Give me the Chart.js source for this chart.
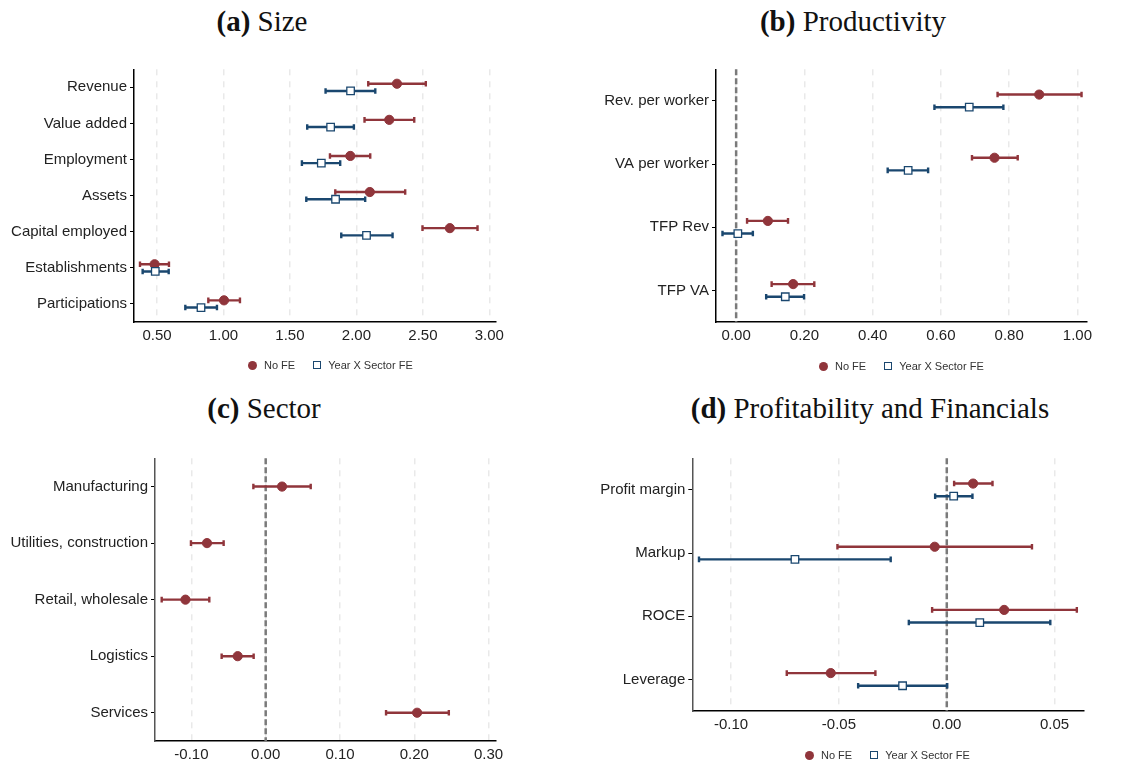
<!DOCTYPE html>
<html>
<head>
<meta charset="utf-8">
<script src="https://cdn.jsdelivr.net/npm/chart.js@4.4.1/dist/chart.umd.min.js"></script>
<style>
  body { margin: 0; background: #fff; width: 1135px; height: 766px; position: relative; overflow: hidden; }
  canvas { position: absolute; }
  .title { position: absolute; width: 500px; text-align: center; font-family: "Liberation Serif", serif; font-size: 29px; line-height: 29px; color: #111; }
  .legend { position: absolute; font-family: "Liberation Sans", Arial, sans-serif; font-size: 11px; color: #333; display: flex; align-items: center; white-space: nowrap; }
  .dot { width: 9px; height: 9px; border-radius: 50%; background: rgb(144,53,59); margin-right: 7px; }
  .sq { width: 6px; height: 6px; border: 1.3px solid rgb(26,71,111); margin-left: 18px; margin-right: 7px; }
</style>
</head>
<body>
<div class="title" style="left:12px; top:7px;"><b>(a)</b> Size</div>
<div class="title" style="left:603px; top:7px;"><b>(b)</b> Productivity</div>
<div class="title" style="left:14px; top:394px;"><b>(c)</b> Sector</div>
<div class="title" style="left:620px; top:394px;"><b>(d)</b> Profitability and Financials</div>

<canvas id="sizeChart" width="545" height="320" style="left:0px; top:40px;"></canvas>
<canvas id="prodChart" width="565" height="320" style="left:570px; top:40px;"></canvas>
<canvas id="sectorChart" width="545" height="336" style="left:0px; top:430px;"></canvas>
<canvas id="profChart" width="565" height="336" style="left:570px; top:430px;"></canvas>

<div class="legend" style="left:248px; top:359px;"><span class="dot"></span>No FE<span class="sq"></span>Year X Sector FE</div>
<div class="legend" style="left:819px; top:360px;"><span class="dot"></span>No FE<span class="sq"></span>Year X Sector FE</div>
<div class="legend" style="left:805px; top:749px;"><span class="dot"></span>No FE<span class="sq"></span>Year X Sector FE</div>

<script>
// valores (estimativa, IC inferior, IC superior)
const sizeLabels = ["Revenue", "Value added", "Employment", "Assets", "Capital employed", "Establishments", "Participations"];
const sizeNoFE = [2.305, 2.247, 1.954, 2.101, 2.703, 0.482, 1.004];
const sizeNoFELo = [2.089, 2.061, 1.801, 1.841, 2.497, 0.372, 0.886];
const sizeNoFEHi = [2.522, 2.435, 2.104, 2.367, 2.911, 0.590, 1.124];
const sizeFE = [1.956, 1.806, 1.736, 1.843, 2.076, 0.487, 0.831];
const sizeFELo = [1.768, 1.630, 1.590, 1.623, 1.886, 0.392, 0.713];
const sizeFEHi = [2.142, 1.981, 1.878, 2.066, 2.272, 0.588, 0.951];
const sizeTicks = [0.5, 1.0, 1.5, 2.0, 2.5, 3.0];

const prodLabels = ["Rev. per worker", "VA per worker", "TFP Rev", "TFP VA"];
const prodNoFE = [0.888, 0.757, 0.093, 0.167];
const prodNoFELo = [0.766, 0.691, 0.032, 0.104];
const prodNoFEHi = [1.012, 0.825, 0.152, 0.229];
const prodFE = [0.683, 0.504, 0.005, 0.144];
const prodFELo = [0.581, 0.444, -0.040, 0.088];
const prodFEHi = [0.783, 0.5625, 0.049, 0.199];
const prodTicks = [0, 0.2, 0.4, 0.6, 0.8, 1.0];

const sectorLabels = ["Manufacturing", "Utilities, construction", "Retail, wholesale", "Logistics", "Services"];
const sectorNoFE = [0.022, -0.079, -0.108, -0.0377, 0.2038];
const sectorNoFELo = [-0.0166, -0.1006, -0.140, -0.0593, 0.162];
const sectorNoFEHi = [0.0606, -0.0566, -0.0759, -0.0162, 0.2465];
const sectorTicks = [-0.1, 0, 0.1, 0.2, 0.3];

const profLabels = ["Profit margin", "Markup", "ROCE", "Leverage"];
const profNoFE = [0.0122, -0.0056, 0.0266, -0.0538];
const profNoFELo = [0.0034, -0.0507, -0.0068, -0.0742];
const profNoFEHi = [0.0212, 0.0395, 0.0603, -0.0331];
const profFE = [0.0032, -0.0704, 0.0153, -0.0205];
const profFELo = [-0.0054, -0.1149, -0.0176, -0.0411];
const profFEHi = [0.0119, -0.026, 0.048, 0.0002];
const profTicks = [-0.1, -0.05, 0, 0.05];

const red = "rgb(144,53,59)";
const blue = "rgb(26,71,111)";

// barras de erro + linha do zero
const errorBars = {
  id: "errorBars",
  beforeDatasetsDraw(chart, args, opts) {
    const { ctx, chartArea, scales: { x, y } } = chart;
    if (opts.zeroLine) {
      const px = x.getPixelForValue(0);
      ctx.save();
      ctx.strokeStyle = "#7a7a7a";
      ctx.lineWidth = 2.5;
      ctx.setLineDash([6, 3]);
      ctx.beginPath();
      ctx.moveTo(px, chartArea.top);
      ctx.lineTo(px, chartArea.bottom);
      ctx.stroke();
      ctx.restore();
    }
    chart.data.datasets.forEach(ds => {
      ctx.save();
      ctx.strokeStyle = ds.borderColor;
      ctx.lineWidth = 2.4;
      ds.data.forEach((p, i) => {
        const py = y.getPixelForValue(p.y);
        const x0 = x.getPixelForValue(ds.lo[i]);
        const x1 = x.getPixelForValue(ds.hi[i]);
        ctx.beginPath();
        ctx.moveTo(x0, py); ctx.lineTo(x1, py);
        ctx.moveTo(x0, py - 2.8); ctx.lineTo(x0, py + 2.8);
        ctx.moveTo(x1, py - 2.8); ctx.lineTo(x1, py + 2.8);
        ctx.stroke();
      });
      ctx.restore();
    });
  }
};

function points(values, offset) {
  return values.map((v, i) => ({ x: v, y: i + 1 + offset }));
}

function noFE(values, lo, hi, offset) {
  return {
    label: "No FE",
    data: points(values, offset),
    lo: lo, hi: hi,
    pointStyle: "circle",
    pointRadius: 4.6,
    backgroundColor: red,
    borderColor: red,
    borderWidth: 1
  };
}

function withFE(values, lo, hi, offset) {
  return {
    label: "Year X Sector FE",
    data: points(values, offset),
    lo: lo, hi: hi,
    pointStyle: "rect",
    pointRadius: 5.3,
    backgroundColor: "#ffffff",
    borderColor: blue,
    borderWidth: 1.3
  };
}

function makeChart(id, cfg) {
  const n = cfg.labels.length;
  return new Chart(document.getElementById(id), {
    type: "scatter",
    data: { datasets: cfg.datasets },
    plugins: [errorBars],
    options: {
      responsive: false,
      animation: false,
      events: [],
      layout: { padding: { top: cfg.padTop, right: cfg.padRight, left: 0, bottom: 0 } },
      plugins: {
        legend: { display: false },
        tooltip: { enabled: false },
        errorBars: { zeroLine: cfg.zeroLine }
      },
      scales: {
        x: {
          type: "linear",
          min: cfg.xMin,
          max: cfg.xMax,
          afterBuildTicks: s => { s.ticks = cfg.ticks.map(v => ({ value: v })); },
          afterFit: s => { s.height = cfg.xHeight; },
          ticks: {
            callback: v => v.toFixed(2),
            color: "#222",
            font: { family: "Liberation Sans", size: 15 },
            padding: 5,
            maxRotation: 0,
            autoSkip: false
          },
          grid: { color: "#e9e9e9", lineWidth: 1.5, drawTicks: false },
          border: { color: "#000", width: 1.5, dash: [6, 6] }
        },
        y: {
          type: "linear",
          reverse: true,
          min: 0.5,
          max: n + 0.5,
          afterBuildTicks: s => { s.ticks = cfg.labels.map((l, i) => ({ value: i + 1 })); },
          afterFit: s => { s.width = cfg.yWidth; },
          ticks: {
            callback: v => cfg.labels[v - 1],
            color: "#222",
            font: { family: "Liberation Sans", size: 15 },
            padding: 3,
            autoSkip: false
          },
          grid: { drawOnChartArea: false, drawTicks: true, tickLength: 4, color: "#000", lineWidth: 1 },
          border: { color: cfg.spine, width: 1.5 }
        }
      }
    }
  });
}

makeChart("sizeChart", {
  labels: sizeLabels,
  ticks: sizeTicks,
  xMin: 0.327, xMax: 3.05,
  padTop: 29.3, padRight: 49, yWidth: 134, xHeight: 38,
  zeroLine: false, spine: "#000",
  datasets: [
    withFE(sizeFE, sizeFELo, sizeFEHi, 0.1),
    noFE(sizeNoFE, sizeNoFELo, sizeNoFEHi, -0.1)
  ]
});

makeChart("prodChart", {
  labels: prodLabels,
  ticks: prodTicks,
  xMin: -0.059, xMax: 1.028,
  padTop: 29.3, padRight: 48, yWidth: 146, xHeight: 38,
  zeroLine: true, spine: "#000",
  datasets: [
    withFE(prodFE, prodFELo, prodFEHi, 0.1),
    noFE(prodNoFE, prodNoFELo, prodNoFEHi, -0.1)
  ]
});

makeChart("sectorChart", {
  labels: sectorLabels,
  ticks: sectorTicks,
  xMin: -0.149, xMax: 0.31,
  padTop: 28.3, padRight: 49, yWidth: 155, xHeight: 25,
  zeroLine: true, spine: "#555",
  datasets: [
    noFE(sectorNoFE, sectorNoFELo, sectorNoFEHi, 0)
  ]
});

makeChart("profChart", {
  labels: profLabels,
  ticks: profTicks,
  xMin: -0.118, xMax: 0.0633,
  padTop: 28.3, padRight: 51.7, yWidth: 122.3, xHeight: 55,
  zeroLine: true, spine: "#555",
  datasets: [
    withFE(profFE, profFELo, profFEHi, 0.1),
    noFE(profNoFE, profNoFELo, profNoFEHi, -0.1)
  ]
});
</script>
</body>
</html>
